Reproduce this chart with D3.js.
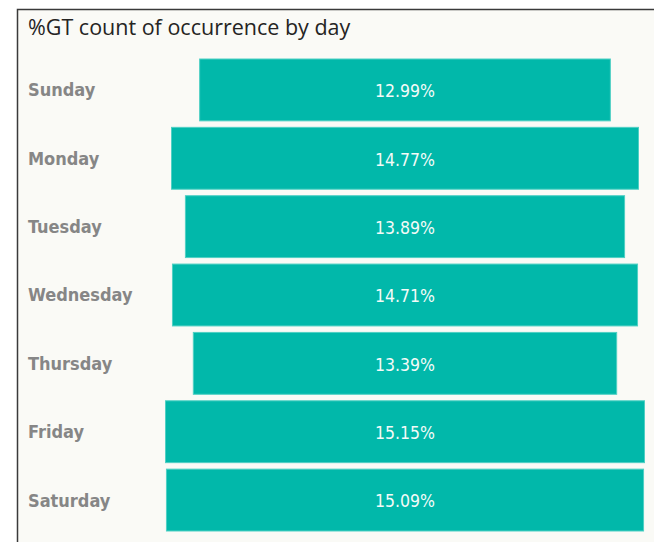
<!DOCTYPE html>
<html>
<head>
<meta charset="utf-8">
<script src="https://cdn.jsdelivr.net/npm/d3@7"></script>
<style>
  body { margin: 0; background: #fff; }
  svg { display: block; }
</style>
</head>
<body>
<script>
const days = ["Sunday", "Monday", "Tuesday", "Wednesday", "Thursday", "Friday", "Saturday"];
const shares = [12.99, 14.77, 13.89, 14.71, 13.39, 15.15, 15.09];

const width = 654;
const height = 542;
const centerX = 405;

const svg = d3.select('body')
  .append('svg')
  .attr('width', width)
  .attr('height', height);

// panel
svg.append('rect')
  .attr('x', 17.5)
  .attr('y', 9.5)
  .attr('width', width)
  .attr('height', height)
  .attr('fill', '#fafaf6')
  .attr('stroke', '#3a3a3a')
  .attr('stroke-width', 1.5);

svg.append('text')
  .attr('x', 28)
  .attr('y', 35)
  .attr('font-family', "'Open Sans', 'Noto Sans', sans-serif")
  .attr('font-size', 21.5)
  .attr('fill', '#252423')
  .text('%GT count of occurrence by day');

const y = d3.scaleBand()
  .domain(days)
  .range([59, 531])
  .paddingInner(0.095)
  .paddingOuter(0);

const x = d3.scaleLinear()
  .domain([0, d3.max(shares)])
  .range([0, 479]);

const rows = svg.selectAll('.row')
  .data(days.map((d, i) => ({day: d, value: shares[i]})))
  .enter().append('g')
  .attr('class', 'row');

rows.append('rect')
  .attr('x', d => centerX - x(d.value) / 2)
  .attr('y', d => y(d.day))
  .attr('width', d => x(d.value))
  .attr('height', y.bandwidth())
  .attr('fill', '#01b8aa')
  .attr('stroke', '#4fd0c4')
  .attr('stroke-width', 1);

rows.append('text')
  .attr('x', centerX)
  .attr('y', d => y(d.day) + y.bandwidth() / 2 + 1)
  .attr('dy', '0.36em')
  .attr('text-anchor', 'middle')
  .attr('font-family', "'DejaVu Sans Condensed', 'DejaVu Sans', sans-serif")
  .attr('font-size', 17.5)
  .attr('fill', '#f4fbf8')
  .text(d => d.value.toFixed(2) + '%');

rows.append('text')
  .attr('x', 28)
  .attr('y', d => y(d.day) + y.bandwidth() / 2)
  .attr('dy', '0.36em')
  .attr('font-family', "'DejaVu Sans Condensed', 'DejaVu Sans', sans-serif")
  .attr('font-weight', 'bold')
  .attr('font-size', 18)
  .attr('fill', '#868686')
  .text(d => d.day);
</script>
</body>
</html>
